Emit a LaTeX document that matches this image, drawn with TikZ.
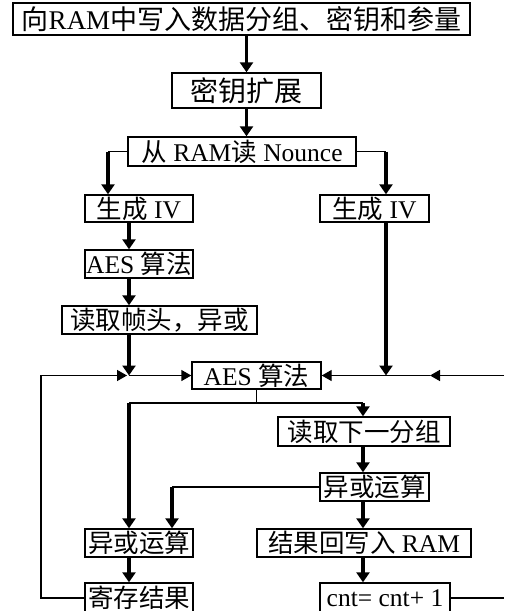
\documentclass[tikz,border=0pt]{standalone}
\usepackage{fontspec}
\setmainfont{Liberation Serif}
\newfontfamily\cjk{Noto Sans CJK SC}
\usetikzlibrary{arrows.meta}
\newcommand{\zh}[1]{{\cjk #1}}
\tikzset{
  blk/.style={draw=black, line width=1.4pt, inner sep=0pt,
    font=\fontsize{25.5}{28}\selectfont},
  bigblk/.style={blk, font=\fontsize{27}{30}\selectfont},
  thinln/.style={line width=1.4pt},
  flow/.style={line width=3.8pt, -{Triangle[width=13pt,length=10pt]}},
  feed/.style={line width=1.4pt, -{Triangle[width=11pt,length=10pt]}},
}

\begin{document}
\begin{tikzpicture}[x=1pt, y=-1pt]
    \useasboundingbox (0,0) rectangle (504,611);
    \clip (0,0) rectangle (504,611);
    % Columns of the connectors
    \coordinate (xo) at (41,0);
    \coordinate (xa) at (108,0);
    \coordinate (xl) at (129,0);
    \coordinate (xm) at (172,0);
    \coordinate (xd) at (363,0);
    \coordinate (xr) at (386,0);
    \coordinate (xt) at (430,0);
    \coordinate (xe) at (504,0);
    % Boxes
    \node[bigblk, minimum width=457, minimum height=32] (write) at (241.5,19)
      {\zh{向}RAM\zh{中写入数据分组、密钥和参量}};
    \node[bigblk, minimum width=149, minimum height=35, font=\fontsize{28}{30}\selectfont] (keyexp) at (246.5,90.5) {\zh{密钥扩展}};
    \node[blk, minimum width=228, minimum height=29] (nounce) at (242,151.5) {\zh{从} RAM\zh{读} Nounce};
    \node[blk, minimum width=108, minimum height=27] (ivl) at (139,208.5) {\zh{生成} IV};
    \node[blk, minimum width=109, minimum height=27] (ivr) at (374.5,208.5) {\zh{生成} IV};
    \node[blk, minimum width=108, minimum height=28] (aesl) at (139,264) {AES \zh{算法}};
    \node[blk, minimum width=195, minimum height=28] (hdr) at (159.5,320) {\zh{读取帧头，异或}};
    \node[blk, minimum width=129, minimum height=27] (aes) at (256.5,375.5) {AES \zh{算法}};
    \node[blk, minimum width=172, minimum height=29] (next) at (364,431.5) {\zh{读取下一分组}};
    \node[blk, minimum width=109, minimum height=28] (xorr) at (374.5,487) {\zh{异或运算}};
    \node[blk, minimum width=108, minimum height=28] (xorl) at (139,543) {\zh{异或运算}};
    \node[blk, minimum width=214, minimum height=28] (wb) at (364,543) {\zh{结果回写入} RAM};
    \node[blk, minimum width=108, minimum height=30] (store) at (139,598) {\zh{寄存结果}};
    \node[blk, minimum width=130, minimum height=30] (cnt) at (385,598) {cnt= cnt+ 1};
    % Top column
    \draw[flow] (keyexp.north |- write.south) -- (keyexp.north);
    \draw[flow] (keyexp.south) -- (keyexp.south |- nounce.north);
    \draw[thinln] (nounce.west) -- (nounce.west -| xa) coordinate (na);
    \draw[flow] (na) -- (ivl.north -| xa);
    \draw[thinln] (nounce.east) -- (nounce.east -| xr) coordinate (nb);
    \draw[flow] (nb) -- (ivr.north -| xr);
    % Left branch
    \draw[flow] (ivl.south -| xl) -- (aesl.north -| xl);
    \draw[flow] (aesl.south -| xl) -- (hdr.north -| xl);
    \coordinate (jl) at (xl |- aes.west);
    \draw[flow] (hdr.south -| xl) -- (jl);
    \draw[feed] (jl) -- (aes.west);
    \draw[feed] (store.west) -| (xo |- aes.west) -- ([xshift=-2pt]jl);
    % Right branch
    \coordinate (jr) at (xr |- aes.east);
    \draw[flow] (ivr.south -| xr) -- (jr);
    \draw[feed] (xe |- aes.east) -- (xt |- aes.east);
    \draw[feed] (xt |- aes.east) -- (aes.east);
    % Split below the AES box
    \coordinate (sp) at (aes.south |- 0,403);
    \draw[thinln] (aes.south) -- (sp);
    \draw[thinln] (xl |- sp) -- (xd |- sp);
    \draw[flow] (xl |- sp) -- (xorl.north -| xl);
    \draw[flow] (xd |- sp) -- (next.north -| xd);
    \draw[flow] (next.south -| xd) -- (xorr.north -| xd);
    \draw[thinln] (xorr.west) -- (xorr.west -| xm) coordinate (xc);
    \draw[flow] (xc) -- (xorl.north -| xm);
    \draw[flow] (xorr.south -| xd) -- (wb.north -| xd);
    \draw[flow] (xorl.south -| xl) -- (store.north -| xl);
    \draw[flow] (wb.south -| xd) -- (cnt.north -| xd);
    \draw[thinln] (cnt.east) -- (cnt.east -| xe);
\end{tikzpicture}
\end{document}
